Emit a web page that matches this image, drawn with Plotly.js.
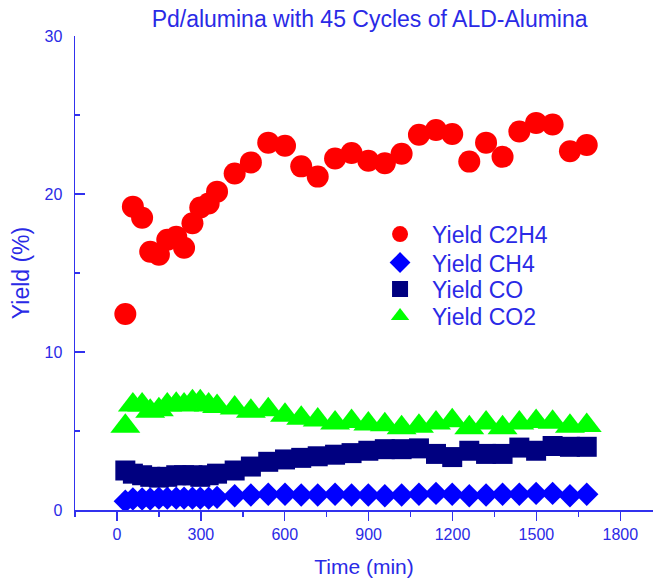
<!DOCTYPE html>
<html>
<head>
<meta charset="utf-8">
<script src="https://cdn.plot.ly/plotly-3.0.1.min.js"></script>
<style>html,body{margin:0;padding:0;background:#fff;}#chart{width:653px;height:579px;}</style>
</head>
<body>
<div id="chart"></div>
<script>
// Time on stream (min)
const timeMin = [30, 57, 90, 119, 150, 180, 212, 240, 270, 298, 328, 358, 421, 479, 541, 601, 659, 718, 780, 839, 899, 958, 1018, 1080, 1141, 1199, 1260, 1320, 1379, 1439, 1499, 1558, 1620, 1680];
// Yields (%)
const yieldC2H4 = [12.4, 19.2, 18.5, 16.35, 16.15, 17.1, 17.3, 16.6, 18.15, 19.15, 19.4, 20.15, 21.3, 22.0, 23.25, 23.05, 21.75, 21.1, 22.25, 22.6, 22.1, 21.95, 22.55, 23.75, 24.05, 23.8, 22.05, 23.25, 22.35, 23.95, 24.5, 24.4, 22.7, 23.1];
const yieldCH4 = [0.55, 0.7, 0.7, 0.7, 0.75, 0.75, 0.75, 0.75, 0.75, 0.75, 0.75, 0.8, 0.9, 0.95, 1.0, 1.0, 0.95, 0.95, 1.0, 0.95, 0.95, 0.9, 0.95, 1.0, 1.05, 1.0, 0.9, 0.95, 1.0, 1.0, 1.05, 1.05, 0.9, 1.0];
const yieldCO = [2.5, 2.3, 2.2, 2.1, 2.05, 2.1, 2.2, 2.2, 2.2, 2.1, 2.2, 2.3, 2.5, 2.75, 3.05, 3.2, 3.3, 3.4, 3.5, 3.6, 3.75, 3.85, 3.85, 3.9, 3.55, 3.35, 3.75, 3.55, 3.55, 3.95, 3.75, 4.05, 4.0, 4.0];
const yieldCO2 = [5.3, 6.65, 6.65, 6.25, 6.35, 6.65, 6.7, 6.65, 6.85, 6.85, 6.65, 6.55, 6.45, 6.25, 6.35, 6.0, 5.8, 5.7, 5.5, 5.6, 5.45, 5.4, 5.2, 5.3, 5.5, 5.65, 5.2, 5.5, 5.2, 5.5, 5.6, 5.55, 5.3, 5.35];

const seriesNames = ['Yield C2H4', 'Yield CH4', 'Yield CO', 'Yield CO2'];

const AX = '#3131ee';
const TXT = '#2a2ae6';
const FONT = 'Arial, "Liberation Sans", sans-serif';

function tr(name, y, symbol, color, size, legendId) {
  return {
    x: timeMin, y: y, name: name, type: 'scatter', mode: 'markers',
    marker: {symbol: symbol, color: color, size: size, line: {width: 0}},
    xaxis: 'x', yaxis: 'y', legend: legendId
  };
}

const data = [
  tr(seriesNames[0], yieldC2H4, 'circle', '#ff0000', 22, 'legend'),
  tr(seriesNames[1], yieldCH4, 'diamond', '#0000ff', 18, 'legend2'),
  tr(seriesNames[2], yieldCO, 'square', '#000080', 20, 'legend3'),
  tr(seriesNames[3], yieldCO2, 'triangle-up', '#00ff00', 26, 'legend4')
];

function leg(yc) {
  return {x: 0.507, y: yc, xanchor: 'left', yanchor: 'middle', bgcolor: 'rgba(0,0,0,0)',
          font: {family: FONT, size: 23, color: TXT}, itemwidth: 54, borderwidth: 0};
}

const layout = {
  width: 653, height: 579,
  margin: {l: 75, r: 0, t: 36, b: 69, pad: 0},
  paper_bgcolor: '#ffffff', plot_bgcolor: '#ffffff',
  font: {family: FONT, color: TXT, size: 16},
  title: {text: 'Pd/alumina with 45 Cycles of ALD-Alumina', x: 0.566, xref: 'container', xanchor: 'center',
          y: 0.967, yref: 'container', yanchor: 'middle', font: {family: FONT, size: 23, color: TXT}},
  showlegend: true,
  legend: leg(0.582),
  legend2: leg(0.522),
  legend3: leg(0.466),
  legend4: leg(0.409),
  xaxis: {
    range: [-150, 1917], tick0: 0, dtick: 300, ticks: 'outside', ticklen: 9, tickwidth: 1.5, tickcolor: AX,
    showline: true, linecolor: AX, linewidth: 1.5, showgrid: false, zeroline: false,
    minor: {dtick: 150, tick0: 0, ticks: 'outside', ticklen: 5, tickwidth: 1.5, tickcolor: AX},
    tickfont: {family: FONT, size: 16, color: TXT},
    title: {text: 'Time (min)', font: {family: FONT, size: 21, color: TXT}, standoff: 17},
    automargin: false
  },
  xaxis2: {
    overlaying: 'x', side: 'top', anchor: 'y', range: [-150, 1917], tick0: 0, dtick: 300,
    ticks: 'inside', ticklen: 9, tickwidth: 1.5, tickcolor: AX, showticklabels: false,
    showline: true, linecolor: AX, linewidth: 1.5, showgrid: false, zeroline: false,
    minor: {dtick: 150, tick0: 0, ticks: 'inside', ticklen: 5, tickwidth: 1.5, tickcolor: AX}
  },
  yaxis: {
    range: [0, 30], tick0: 0, dtick: 10, ticks: 'inside', ticklen: 10, tickwidth: 1.5, tickcolor: AX,
    showline: true, linecolor: AX, linewidth: 1.5, showgrid: false, zeroline: false,
    minor: {dtick: 5, tick0: 0, ticks: 'inside', ticklen: 5, tickwidth: 1.5, tickcolor: AX},
    tickfont: {family: FONT, size: 16, color: TXT}, ticklabelstandoff: 8,
    title: {text: 'Yield (%)', font: {family: FONT, size: 23, color: TXT}, standoff: 8},
    automargin: false
  }
};

Plotly.newPlot('chart', data, layout, {displayModeBar: false, staticPlot: true});
</script>
</body>
</html>
